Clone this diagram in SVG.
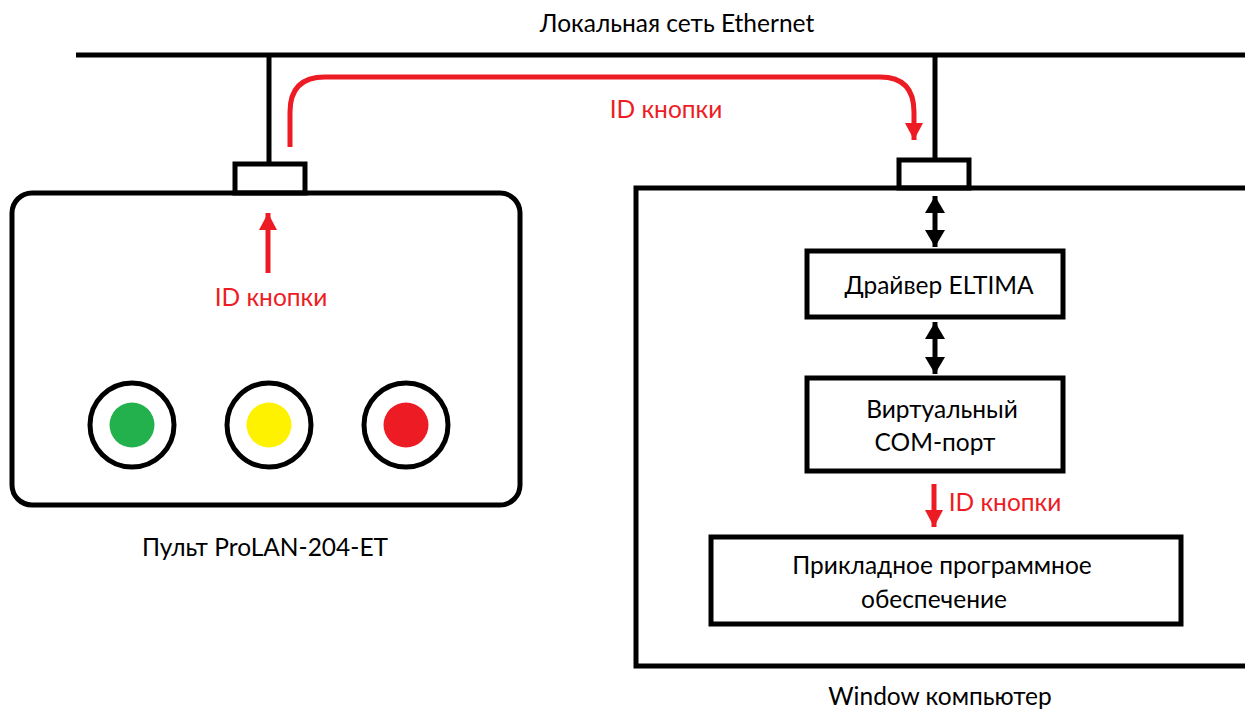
<svg xmlns="http://www.w3.org/2000/svg" width="1245" height="711" viewBox="0 0 1245 711">
<style>
.k{fill:none;stroke:#000;stroke-width:5}
.t{font-family:Lato,"Open Sans","Liberation Sans",sans-serif;font-size:24.5px;fill:#000;text-anchor:middle}
.rt{font-family:Lato,"Open Sans","Liberation Sans",sans-serif;font-size:24.5px;fill:#ED1C24;text-anchor:middle}
.rs{fill:none;stroke:#ED1C24;stroke-width:5}
</style>
<defs>
<marker id="ra" markerUnits="userSpaceOnUse" markerWidth="18" markerHeight="18" refX="17" refY="9" orient="auto"><path d="M0,0 L17,9 L0,18 Z" fill="#ED1C24"/></marker>
<marker id="ka" markerUnits="userSpaceOnUse" markerWidth="18" markerHeight="20" refX="17" refY="10" orient="auto-start-reverse"><path d="M0,0 L17,10 L0,20 Z" fill="#000"/></marker>
</defs>
<rect width="1245" height="711" fill="#fff"/>
<text class="t" x="677" y="32">Локальная сеть Ethernet</text>
<g id="connectors">
<line class="k" x1="76" y1="55" x2="1245" y2="55"/>
<line class="k" x1="269" y1="55" x2="269" y2="165"/>
<line class="k" x1="935" y1="55" x2="935" y2="160"/>
<path class="rs" d="M290,147 V112 Q290,77 325,77 H880 Q914,77 914,112 V140" marker-end="url(#ra)"/>
<line class="rs" x1="268" y1="273" x2="268" y2="213" marker-end="url(#ra)"/>
<line class="k" x1="935" y1="196" x2="935" y2="247" marker-start="url(#ka)" marker-end="url(#ka)"/>
<line class="k" x1="935" y1="322" x2="935" y2="374" marker-start="url(#ka)" marker-end="url(#ka)"/>
<line class="rs" x1="934" y1="484" x2="934" y2="527" marker-end="url(#ra)"/>
</g>
<text class="rt" x="666" y="118">ID кнопки</text>
<g id="remote">
<rect class="k" x="12" y="193" width="508" height="312" rx="20"/>
<rect class="k" x="235" y="164" width="70" height="29" fill="#fff"/>
<text class="rt" x="271" y="306">ID кнопки</text>
<circle class="k" cx="132" cy="425" r="42"/>
<circle cx="132" cy="425" r="22.5" fill="#22B14C"/>
<circle class="k" cx="269" cy="425" r="42"/>
<circle cx="269" cy="425" r="22.5" fill="#FFF200"/>
<circle class="k" cx="406" cy="425" r="42"/>
<circle cx="406" cy="425" r="22.5" fill="#ED1C24"/>
<text class="t" x="265" y="556">Пульт ProLAN-204-ET</text>
</g>
<g id="computer">
<rect class="k" x="636" y="188" width="620" height="478"/>
<rect class="k" x="899" y="160" width="70" height="28" fill="#fff"/>
<text class="t" x="940" y="705">Window компьютер</text>
</g>
<g id="driver">
<rect class="k" x="807" y="251" width="256" height="66"/>
<text class="t" x="939" y="294">Драйвер ELTIMA</text>
</g>
<g id="vcom">
<rect class="k" x="807" y="378" width="256" height="93"/>
<text class="t" x="942" y="418">Виртуальный</text>
<text class="t" x="935" y="451">COM-порт</text>
</g>
<text class="rt" x="1005" y="511">ID кнопки</text>
<g id="app">
<rect class="k" x="711" y="537" width="470" height="87"/>
<text class="t" x="942" y="574">Прикладное программное</text>
<text class="t" x="934" y="608">обеспечение</text>
</g>
</svg>
